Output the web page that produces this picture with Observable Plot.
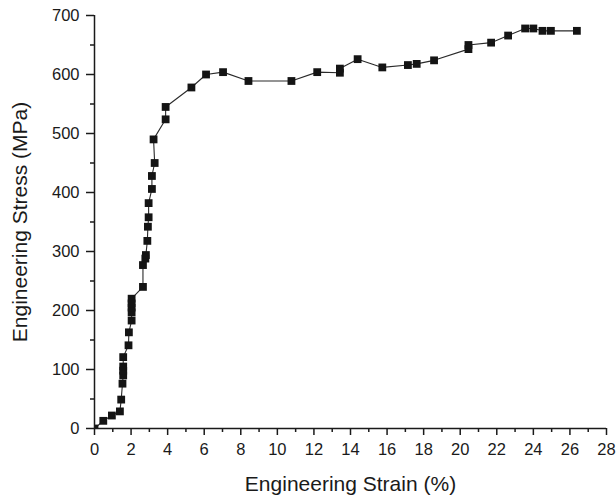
<!DOCTYPE html>
<html>
<head>
<meta charset="utf-8">
<script src="https://cdn.jsdelivr.net/npm/d3@7"></script>
<script src="https://cdn.jsdelivr.net/npm/@observablehq/plot@0.6"></script>
<style>
  html, body { margin: 0; padding: 0; background: #fff; }
  #chart svg { display: block; }
</style>
</head>
<body>
<div id="chart"></div>
<script>
// Engineering stress–strain curve (tensile test)
const strain = [
  0, 0.48, 0.95, 1.39, 1.46, 1.53, 1.57, 1.57, 1.57, 1.57,
  1.86, 1.88, 2.03, 2.03, 2.03, 2.03, 2.03, 2.65, 2.65, 2.78,
  2.81, 2.89, 2.92, 2.96, 2.96, 3.14, 3.14, 3.29, 3.23, 3.89,
  3.89, 5.3, 6.1, 7.03, 8.42, 10.77, 12.18, 13.42, 13.42, 14.39,
  15.74, 17.14, 17.62, 18.57, 20.45, 20.45, 21.69, 22.62, 23.55, 24.0,
  24.5, 24.96, 26.38
];
const stress = [
  0, 13, 22, 29, 49, 76, 90, 98, 105, 121,
  141, 163, 183, 197, 205, 212, 220, 240, 277, 288,
  294, 318, 342, 358, 382, 406, 428, 450, 490, 524,
  545, 578, 600, 604, 589, 589, 604, 603, 610, 626,
  612, 616, 618, 624, 643, 650, 654, 666, 678, 678,
  674, 674, 674
];
const xMajorTicks = d3.range(0, 29, 2);
const xMinorTicks = d3.range(1, 28, 2);
const yMajorTicks = d3.range(0, 701, 100);
const yMinorTicks = d3.range(50, 700, 100);

const data = strain.map((s, i) => ({strain: s, stress: stress[i]}));

const ink = "#1a1a1a";
const font = "Liberation Sans, Arial, Helvetica, sans-serif";

const chart = Plot.plot({
  width: 616,
  height: 497,
  marginLeft: 94,
  marginRight: 10,
  marginTop: 15,
  marginBottom: 69,
  style: {fontFamily: font, background: "#fff", color: ink},
  x: {domain: [0, 28]},
  y: {domain: [0, 700]},
  marks: [
    Plot.line(data, {x: "strain", y: "stress", stroke: "#2a2a2a", strokeWidth: 1.1}),
    Plot.dot(data, {x: "strain", y: "stress", symbol: "square", r: 4.4, fill: "#141414", stroke: "none", clip: true}),
    Plot.ruleX([0], {stroke: ink, strokeWidth: 1.5}),
    Plot.ruleY([0], {stroke: ink, strokeWidth: 1.5}),
    Plot.axisX({ticks: xMajorTicks, tickSize: 7, tickPadding: 8, strokeWidth: 1.5, fontSize: 16.5,
      label: "Engineering Strain (%)", labelAnchor: "center", labelArrow: "none", labelOffset: 62}),
    Plot.axisX({ticks: xMinorTicks, tickSize: 4, strokeWidth: 1.5, text: null, label: null}),
    Plot.axisY({ticks: yMajorTicks, tickSize: 8, tickPadding: 7, strokeWidth: 1.5, fontSize: 16.5,
      label: "Engineering Stress (MPa)", labelAnchor: "center", labelArrow: "none", labelOffset: 82}),
    Plot.axisY({ticks: yMinorTicks, tickSize: 4, strokeWidth: 1.5, text: null, label: null})
  ]
});

// axis titles are set a bit larger than the tick labels
d3.select(chart).selectAll("[aria-label='x-axis label'] text, [aria-label='y-axis label'] text")
  .attr("font-size", 21);

document.getElementById("chart").append(chart);
</script>
</body>
</html>
